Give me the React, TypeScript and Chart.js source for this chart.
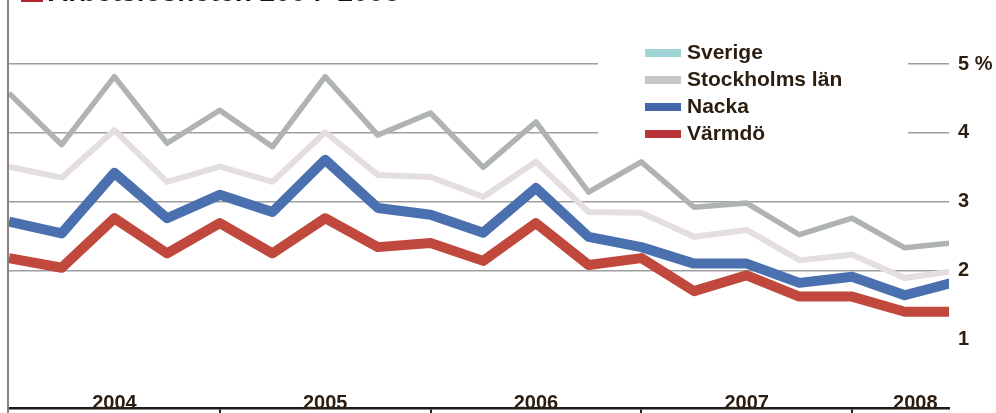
import React, { useEffect, useRef } from "react";
import { Chart, registerables } from "chart.js";

Chart.register(...registerables);

const quarters = [
  "2004 kv1", "2004 kv2", "2004 kv3", "2004 kv4",
  "2005 kv1", "2005 kv2", "2005 kv3", "2005 kv4",
  "2006 kv1", "2006 kv2", "2006 kv3", "2006 kv4",
  "2007 kv1", "2007 kv2", "2007 kv3", "2007 kv4",
  "2008 kv1", "2008 kv2", "2008 kv3",
];

const sverige = [4.58, 3.83, 4.82, 3.85, 4.33, 3.8, 4.82, 3.97, 4.29, 3.5, 4.16, 3.14, 3.58, 2.92, 2.98, 2.52, 2.76, 2.33, 2.41];
const stockholm = [3.51, 3.35, 4.04, 3.29, 3.51, 3.29, 4.01, 3.39, 3.36, 3.07, 3.58, 2.85, 2.84, 2.49, 2.59, 2.15, 2.23, 1.89, 2.0];
const nacka = [2.71, 2.54, 3.42, 2.76, 3.1, 2.85, 3.61, 2.91, 2.81, 2.55, 3.2, 2.49, 2.34, 2.1, 2.1, 1.82, 1.91, 1.64, 1.84];
const varmdo = [2.18, 2.04, 2.76, 2.25, 2.69, 2.25, 2.76, 2.34, 2.4, 2.14, 2.69, 2.08, 2.18, 1.7, 1.93, 1.62, 1.62, 1.4, 1.4];

const seriesNames = ["Sverige", "Stockholms län", "Nacka", "Värmdö"];
const lineColors = ["#afb4b2", "#e4dede", "#4a70b0", "#c0483c"];
const legendColors = ["#9fd5d6", "#c6c6ca", "#4266a8", "#b8353a"];
const lineWidths = [5.5, 6, 10, 10];

const yearLabels = ["2004", "2005", "2006", "2007", "2008"];
const yearLabelPos = [2, 6, 10, 14, 17.2];
const yearTickPos = [4, 8, 12, 16];
const yTickLabels: Record<number, string> = { 1: "1", 2: "2", 3: "3", 4: "4", 5: "5 %" };
const yGridValues = [2, 3, 4, 5];

const FONT = '"Liberation Sans", Arial, sans-serif';
const INK = "#2b1d10";

const legendPlugin = {
  id: "boxLegend",
  afterDraw(chart: any) {
    const ctx = chart.ctx;
    ctx.save();
    ctx.fillStyle = "#ffffff";
    ctx.fillRect(598, 30, 310, 118);
    ctx.font = `bold 21px ${FONT}`;
    ctx.textBaseline = "middle";
    ctx.textAlign = "left";
    chart.data.datasets.forEach((ds: any, i: number) => {
      const cy = 53 + i * 27;
      ctx.fillStyle = legendColors[i];
      ctx.fillRect(645, cy - 4, 36, 8);
      ctx.fillStyle = INK;
      ctx.fillText(ds.label, 687, cy);
    });
    ctx.restore();
  },
};

export default function App() {
  const ref = useRef<HTMLCanvasElement | null>(null);
  useEffect(() => {
    if (!ref.current) return;
    const series = [sverige, stockholm, nacka, varmdo];
    const chart = new Chart(ref.current, {
      type: "line",
      data: {
        labels: quarters,
        datasets: series.map((vals, i) => ({
          label: seriesNames[i],
          data: vals.map((v, j) => ({ x: j, y: v })),
          borderColor: lineColors[i],
          borderWidth: lineWidths[i],
          pointRadius: 0,
          tension: 0,
          borderJoinStyle: "round" as const,
          fill: false,
          clip: 0,
        })),
      },
      options: {
        responsive: false,
        animation: false,
        devicePixelRatio: 1,
        layout: { padding: { left: 9, top: 0, right: 0, bottom: 0 } },
        plugins: { legend: { display: false }, tooltip: { enabled: false } },
        scales: {
          x: {
            type: "linear",
            min: 0,
            max: 17.84,
            afterBuildTicks: (scale: any) => {
              const vals = [...yearLabelPos, ...yearTickPos].sort((a, b) => a - b);
              scale.ticks = vals.map((v) => ({ value: v }));
            },
            afterFit: (scale: any) => {
              scale.height = 5;
              scale.paddingLeft = 0;
              scale.paddingRight = 0;
            },
            ticks: {
              autoSkip: false,
              maxRotation: 0,
              mirror: true,
              padding: -7.5,
              color: INK,
              font: { family: FONT, size: 20, weight: "bold" },
              callback: (v: any) => {
                const idx = yearLabelPos.indexOf(Number(v));
                return idx >= 0 ? yearLabels[idx] : "";
              },
            },
            grid: {
              drawOnChartArea: false,
              drawTicks: true,
              tickLength: 5,
              lineWidth: 2,
              color: (c: any) => (yearTickPos.includes(c.tick?.value) ? "#222222" : "rgba(0,0,0,0)"),
            },
            border: { display: true, color: "#1e1a16", width: 2.5 },
          },
          y: {
            type: "linear",
            position: "right",
            min: 0,
            max: 5.934,
            afterFit: (scale: any) => {
              scale.width = 47;
              scale.paddingTop = 0;
              scale.paddingBottom = 0;
            },
            ticks: {
              stepSize: 1,
              padding: 9,
              color: INK,
              font: { family: FONT, size: 20, weight: "bold" },
              callback: (v: any) => yTickLabels[Number(v)] ?? "",
            },
            grid: {
              drawTicks: false,
              lineWidth: 1.5,
              color: (c: any) => (yGridValues.includes(c.tick?.value) ? "#9e9e9e" : "rgba(0,0,0,0)"),
            },
            border: { display: false },
          },
        },
      },
      plugins: [legendPlugin],
    });
    return () => chart.destroy();
  }, []);

  return (
    <div
      style={{
        position: "fixed",
        left: 0,
        top: 0,
        width: 996,
        height: 413,
        overflow: "hidden",
        background: "#ffffff",
      }}
    >
      <canvas ref={ref} width={996} height={413} style={{ position: "absolute", left: 0, top: 0, width: 996, height: 413 }} />
      <div style={{ position: "absolute", left: 7, top: 0, width: 2, height: 413, background: "#8c8279" }} />
      <div
        style={{
          position: "absolute",
          left: 21,
          top: -22,
          height: 28,
          display: "flex",
          alignItems: "flex-end",
          whiteSpace: "nowrap",
        }}
      >
        <div style={{ width: 22, height: 22, background: "#b3232d", marginRight: 5, marginBottom: 4 }} />
        <span style={{ font: `bold 28px ${FONT}`, lineHeight: "28px", color: "#1a1410" }}>
          Arbetslösheten 2004–2008
        </span>
      </div>
    </div>
  );
}
